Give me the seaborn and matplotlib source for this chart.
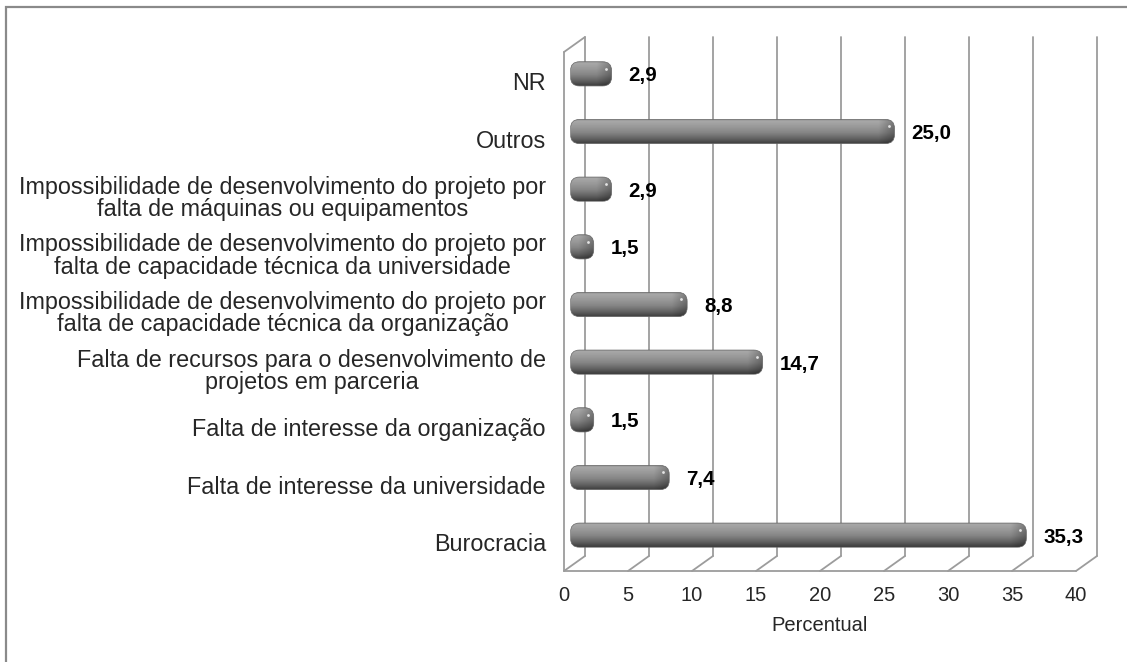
import numpy as np
import matplotlib
matplotlib.use("Agg")
import matplotlib.pyplot as plt
from matplotlib.patches import FancyBboxPatch, Rectangle
import seaborn as sns

categorias = [
    "NR",
    "Outros",
    "Impossibilidade de desenvolvimento do projeto por\nfalta de máquinas ou equipamentos",
    "Impossibilidade de desenvolvimento do projeto por\nfalta de capacidade técnica da universidade",
    "Impossibilidade de desenvolvimento do projeto por\nfalta de capacidade técnica da organização",
    "Falta de recursos para o desenvolvimento de\nprojetos em parceria",
    "Falta de interesse da organização",
    "Falta de interesse da universidade",
    "Burocracia",
]
percentual = [2.9, 25.0, 2.9, 1.5, 8.8, 14.7, 1.5, 7.4, 35.3]
marcas_x = [0, 5, 10, 15, 20, 25, 30, 35, 40]

sns.set_style("white")
plt.rcParams["font.family"] = ["Liberation Sans", "DejaVu Sans"]

W, H = 1127, 662
fig = plt.figure(figsize=(W / 100, H / 100), dpi=100)
ax_w, ax_h = 512, 519
ax = fig.add_axes([564 / W, 1 - 571 / H, ax_w / W, ax_h / H])

sns.barplot(x=percentual, y=categorias, orient="h", color="#8c8c8c", width=0.42, ax=ax)

# pixel -> data units
px_x = 40 / ax_w
px_y = 9 / ax_h
dep_x, dep_y = 21, 15   # depth of the 3d box in px
cor_grade = "#9c9c9c"

# back wall, floor and left wall
for v in marcas_x:
    ax.plot([v + dep_x * px_x] * 2, [-0.5 - dep_y * px_y, 8.5 - dep_y * px_y],
            color=cor_grade, lw=1.3, clip_on=False, zorder=1)
    ax.plot([v, v + dep_x * px_x], [8.5, 8.5 - dep_y * px_y],
            color=cor_grade, lw=1.3, clip_on=False, zorder=1)
ax.plot([0, 40], [8.5, 8.5], color=cor_grade, lw=1.3, clip_on=False, zorder=1)
ax.plot([0, 0], [-0.5, 8.5], color=cor_grade, lw=1.3, clip_on=False, zorder=1)
ax.plot([0, dep_x * px_x], [-0.5, -0.5 - dep_y * px_y], color=cor_grade, lw=1.3, clip_on=False, zorder=1)

# cylinder-like bars on top of the seaborn ones
perfil_t = [0, 0.08, 0.3, 0.55, 0.8, 0.95, 1]
perfil_v = [0.55, 0.66, 0.60, 0.52, 0.38, 0.27, 0.24]
barras = list(ax.patches)
for p, v in zip(barras, percentual):
    x0, y0, w, h = p.get_x(), p.get_y(), p.get_width(), p.get_height()
    p.set_visible(False)
    bx0 = x0 + 10.5 * px_x - 4 * px_x
    bx1 = x0 + w + 10.5 * px_x
    by0 = y0 - 7 * px_y
    caixa = FancyBboxPatch((bx0, by0), bx1 - bx0, h,
                           boxstyle=f"round,pad=0,rounding_size={9 * px_x}",
                           mutation_aspect=px_y / px_x,
                           facecolor="none", edgecolor="#666666", lw=0.5, zorder=4)
    ax.add_patch(caixa)
    ny, nx = 60, 300
    vert = np.interp(np.linspace(0, 1, ny), perfil_t, perfil_v)
    larg_px = (bx1 - bx0) / px_x
    d = (1 - np.linspace(0, 1, nx)) * larg_px
    horiz = np.where(d < 16, 0.72 + 0.28 * d / 16, 1.0)
    arr = vert[:, None] * horiz[None, :]
    im = ax.imshow(arr, cmap="gray", vmin=0, vmax=1, extent=[bx0, bx1, by0 + h, by0],
                   aspect="auto", interpolation="bilinear", zorder=3)
    im.set_clip_path(caixa)
    ax.scatter([bx1 - 6 * px_x], [by0 + 7 * px_y], s=4, color="white", alpha=0.8,
               linewidths=0, zorder=5)
    ax.annotate(f"{v:.1f}".replace(".", ","), xy=(x0 + w, y0 + h / 2),
                xytext=(27.5 * 0.72, 5 * 0.72), textcoords="offset points",
                ha="left", va="center", fontsize=14.8, fontweight="bold", color="black")

ax.set_xlim(0, 40)
ax.set_ylim(8.5, -0.5)
ax.set_xticks(marcas_x)
ax.grid(False)
sns.despine(ax=ax, left=True, bottom=True)
ax.tick_params(axis="y", length=0, pad=13, labelsize=16.8)
ax.tick_params(axis="x", length=0, pad=11, labelsize=14.5)
for t in ax.get_yticklabels():
    t.set_multialignment("center")
    t.set_linespacing(0.96)
ax.set_ylabel("")
ax.set_xlabel("Percentual", fontsize=14.5, labelpad=8)

fig.add_artist(Rectangle((6 / W, -0.05), 1.1, 1 - 7 / H + 0.05, fill=False,
                         edgecolor="#8a8a8a", lw=1.6, transform=fig.transFigure))

fig.savefig("out.png", dpi=100)
